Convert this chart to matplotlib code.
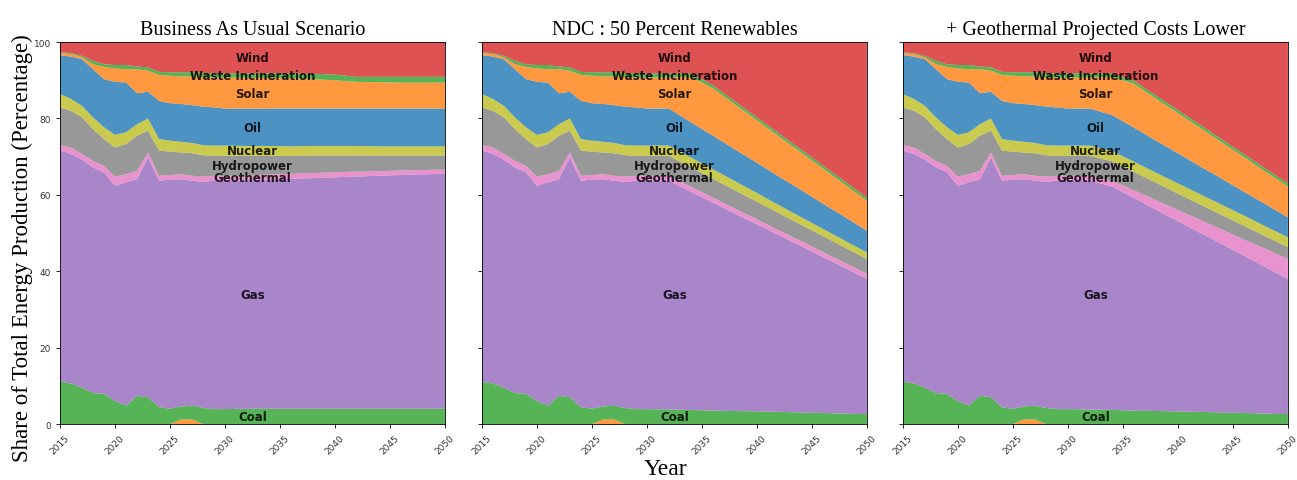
"""Stacked share of energy production for three Thailand-style power scenarios."""

import matplotlib
matplotlib.use("Agg")
import matplotlib.pyplot as plt

# Years: annual history up to 2030, then every second year
YEARS = list(range(2015, 2031)) + list(range(2032, 2051, 2))

SOURCES = ['Other', 'Coal', 'Gas', 'Geothermal', 'Hydropower', 'Nuclear',
           'Oil', 'Solar', 'Waste Incineration', 'Wind']
COLORS = ['tab:orange', 'tab:green', 'tab:purple', 'tab:pink', 'tab:gray',
          'tab:olive', 'tab:blue', 'tab:orange', 'tab:green', 'tab:red']

TITLES = ['Business As Usual Scenario', 'NDC : 50 Percent Renewables',
          '+ Geothermal Projected Costs Lower']

# shared history 2015..2030 (percent of total production)
other_hist = [0, 0, 0, 0, 0, 0, 0, 0, 0, 0, 0, 1.2, 1.2, 0, 0, 0]
coal_hist = [11.1, 10.6, 9.5, 8.1, 7.9, 6.0, 4.8, 7.4, 7.0, 4.4, 4.0, 3.4, 3.6, 4.2, 3.9, 3.9]
gas_hist = [60.5, 60.1, 59.7, 59.1, 58.0, 56.4, 58.5, 56.7, 62.8, 59.3, 60.0, 59.5, 58.9, 59.2, 59.8, 59.8]
geo_hist = [1.4, 1.7, 1.5, 1.7, 1.7, 2.4, 2.1, 2.2, 1.3, 1.3, 1.2, 1.3, 1.3, 1.4, 1.3, 1.3]
hydro_hist = [9.9, 9.6, 9.6, 8.3, 7.0, 7.6, 7.9, 9.2, 5.7, 6.6, 6.1, 5.7, 5.9, 5.6, 5.2, 5.2]
nuclear_hist = [3.5, 3.1, 3.0, 3.1, 3.1, 3.3, 3.1, 3.0, 3.2, 3.0, 2.9, 2.8, 2.7, 2.6, 2.7, 2.7]
oil_hist = [10.2, 11.1, 12.2, 12.6, 12.6, 13.9, 13.0, 8.1, 7.0, 10.0, 9.8, 9.9, 9.9, 10.1, 10.0, 9.7]
solar_hist = [0.5, 0.7, 0.5, 1.3, 3.2, 3.5, 3.5, 6.3, 5.5, 6.8, 7.2, 7.2, 7.5, 7.7, 7.8, 8.1]
waste_hist = [0.2, 0.2, 0.4, 0.9, 0.7, 0.9, 1.1, 0.7, 0.9, 0.8, 0.9, 1.1, 1.1, 1.1, 1.1, 1.1]
wind_hist = [2.7, 2.9, 3.6, 4.9, 5.8, 6.0, 6.0, 6.4, 6.6, 7.8, 7.9, 7.9, 7.9, 8.1, 8.2, 8.2]

# projections 2032..2050
other_proj = [0, 0, 0, 0, 0, 0, 0, 0, 0, 0]

coal_bau = [4.0, 4.0, 4.0, 4.0, 4.0, 4.0, 4.0, 4.0, 4.0, 4.0]
gas_bau = [59.8, 60.0, 60.2, 60.4, 60.6, 60.8, 61.0, 61.2, 61.4, 61.5]
geo_bau = [1.3, 1.3, 1.3, 1.3, 1.3, 1.3, 1.2, 1.2, 1.1, 1.1]
hydro_bau = [5.1, 4.9, 4.7, 4.6, 4.4, 4.2, 4.1, 3.9, 3.8, 3.7]
nuclear_bau = [2.6, 2.6, 2.5, 2.5, 2.5, 2.5, 2.4, 2.4, 2.4, 2.4]
oil_bau = [9.8, 9.8, 9.9, 9.8, 9.8, 9.8, 9.9, 9.9, 9.9, 9.9]
solar_bau = [8.1, 8.0, 7.9, 7.7, 7.4, 7.0, 6.9, 6.8, 6.8, 6.8]
waste_bau = [1.1, 1.2, 1.3, 1.4, 1.5, 1.3, 1.4, 1.5, 1.5, 1.5]
wind_bau = [8.2, 8.2, 8.2, 8.3, 8.5, 9.1, 9.1, 9.1, 9.1, 9.1]

coal_ndc = [3.8, 3.7, 3.5, 3.4, 3.3, 3.2, 3.0, 2.9, 2.7, 2.6]
gas_ndc = [59.9, 57.1, 54.5, 51.7, 49.0, 46.2, 43.6, 40.8, 38.2, 35.4]
geo_ndc = [1.3, 1.3, 1.3, 1.3, 1.3, 1.3, 1.3, 1.3, 1.3, 1.3]
hydro_ndc = [5.2, 5.1, 4.9, 4.8, 4.6, 4.5, 4.3, 4.2, 4.0, 3.9]
nuclear_ndc = [2.7, 2.6, 2.5, 2.4, 2.3, 2.1, 2.0, 1.9, 1.8, 1.7]
oil_ndc = [9.7, 9.2, 8.8, 8.3, 7.9, 7.5, 7.1, 6.6, 6.2, 5.7]
solar_ndc = [8.2, 11.9, 12.4, 11.8, 11.1, 10.5, 9.8, 9.2, 8.5, 7.9]
waste_ndc = [1.0, 0.9, 0.8, 0.8, 0.8, 0.8, 0.8, 0.8, 0.8, 0.8]
wind_ndc = [8.2, 8.2, 11.3, 15.5, 19.7, 23.9, 28.1, 32.3, 36.5, 40.7]

coal_geo = [3.8, 3.7, 3.5, 3.4, 3.3, 3.2, 3.0, 2.9, 2.7, 2.6]
gas_geo = [59.9, 58.5, 55.7, 52.7, 49.8, 46.9, 44.1, 41.2, 38.3, 35.4]
geo_geo = [1.3, 1.5, 2.0, 2.5, 2.9, 3.4, 3.8, 4.2, 4.8, 5.2]
hydro_geo = [5.2, 5.1, 4.8, 4.6, 4.3, 4.0, 3.8, 3.6, 3.3, 3.1]
nuclear_geo = [2.7, 2.7, 2.7, 2.6, 2.7, 2.7, 2.7, 2.7, 2.6, 2.6]
oil_geo = [9.7, 9.4, 8.9, 8.4, 7.9, 7.3, 6.8, 6.2, 5.8, 5.2]
solar_geo = [8.2, 10.0, 11.5, 11.0, 10.5, 10.1, 9.5, 9.1, 8.5, 8.1]
waste_geo = [1.0, 0.9, 0.8, 0.8, 0.8, 0.8, 0.8, 0.8, 0.8, 0.8]
wind_geo = [8.2, 8.2, 10.1, 14.0, 17.8, 21.6, 25.5, 29.3, 33.2, 37.0]

HIST = [other_hist, coal_hist, gas_hist, geo_hist, hydro_hist, nuclear_hist,
        oil_hist, solar_hist, waste_hist, wind_hist]


def build(proj):
    """Join shared history with a scenario projection."""
    return [h + p for h, p in zip(HIST, proj)]


def label_positions(series, year=2032):
    """Layer mid-points at a given year (used for every panel)."""
    idx = YEARS.index(year)
    pos = {}
    base = 0.0
    for name, vals in zip(SOURCES, series):
        pos[name] = base + vals[idx] / 2
        base += vals[idx]
    return pos


def main():
    scenarios = [
        build([other_proj, coal_bau, gas_bau, geo_bau, hydro_bau, nuclear_bau,
               oil_bau, solar_bau, waste_bau, wind_bau]),
        build([other_proj, coal_ndc, gas_ndc, geo_ndc, hydro_ndc, nuclear_ndc,
               oil_ndc, solar_ndc, waste_ndc, wind_ndc]),
        build([other_proj, coal_geo, gas_geo, geo_geo, hydro_geo, nuclear_geo,
               oil_geo, solar_geo, waste_geo, wind_geo]),
    ]
    label_y = label_positions(scenarios[0])

    fig = plt.figure(figsize=(12.97, 4.81), dpi=100)
    lefts = [0.0463, 0.3716, 0.6962]
    axes = [fig.add_axes([l, 0.1164, 0.2968, 0.794]) for l in lefts]

    for ax, series, title in zip(axes, scenarios, TITLES):
        ax.stackplot(YEARS, *series, colors=COLORS, alpha=0.8, linewidth=0)
        ax.set_xlim(2015, 2050)
        ax.set_ylim(0, 100)
        ax.set_xticks(range(2015, 2051, 5))
        ax.set_yticks(range(0, 101, 20))
        ax.tick_params(labelsize=6.5, length=3, width=0.6, labelcolor='#333333')
        for lab in ax.get_xticklabels():
            lab.set_rotation(45)
        for sp in ax.spines.values():
            sp.set_linewidth(0.6)
        ax.set_title(title, fontsize=14.5, family='Liberation Serif', pad=6)

        for name in SOURCES[1:]:
            ax.text(2032.5, label_y[name], name, ha='center', va='center',
                    fontsize=8.5, fontweight='bold', color='black', alpha=0.85)

    for ax in axes[1:]:
        ax.set_yticklabels([])

    fig.text(0.017, 0.485, 'Share of Total Energy Production (Percentage)',
             rotation=90, ha='center', va='center', fontsize=16.5,
             family='Liberation Serif')
    fig.text(0.513, 0.024, 'Year', ha='center', va='center', fontsize=17,
             family='Liberation Serif')

    fig.savefig('out.png', dpi=100)


if __name__ == "__main__":
    main()
